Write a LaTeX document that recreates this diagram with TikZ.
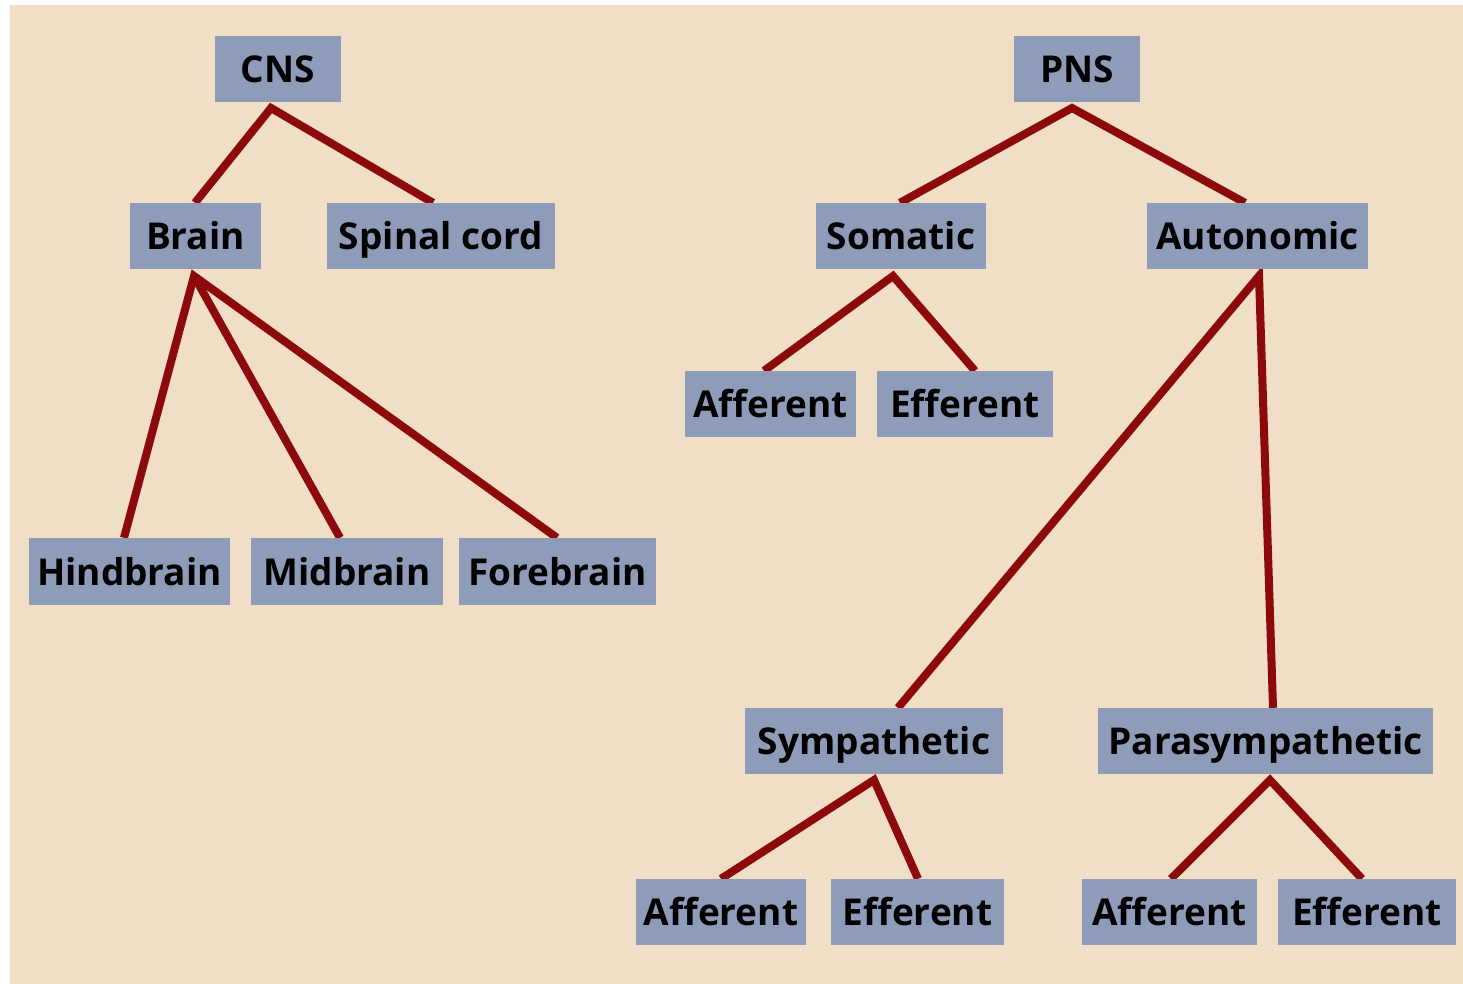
\documentclass[tikz,border=0pt]{standalone}
\usepackage{fontspec}
\setmainfont{Open Sans}
\usetikzlibrary{calc}
\pgfdeclarelayer{background}
\pgfdeclarelayer{paper}
\pgfsetlayers{paper,background,main}
\definecolor{bgbeige}{HTML}{F0DEC6}
\definecolor{boxblue}{HTML}{8E9CBA}
\definecolor{linered}{HTML}{8C0A0A}
\tikzset{
  box/.style={fill=boxblue, draw=none, inner sep=0pt, minimum height=66pt,
    font=\fontsize{37}{37}\selectfont\bfseries, text height=27pt, text depth=0pt},
  link/.style={draw=linered, line width=8pt, line join=miter, line cap=butt}
}
\newcommand{\bx}[6]{% name, left, top, right, bottom, text
  \node[box, minimum width={#4-#2}, minimum height={#5-#3}] (#1) at ({(#2+#4)/2},{(#3+#5)/2}) {#6};}
\begin{document}
\begin{tikzpicture}[x=1pt,y=-1pt]
\useasboundingbox (0,0) rectangle (1463,984);
\begin{pgfonlayer}{paper}
\fill[white] (0,0) rectangle (1463,984);
\fill[bgbeige] (10,5) rectangle (1463,984);
\end{pgfonlayer}
\bx{cns}{215}{36}{341}{102}{CNS}
\bx{pns}{1014}{36}{1140}{102}{PNS}
\bx{brain}{130}{203}{261}{269}{Brain}
\bx{spinal}{327}{203}{555}{269}{Spinal cord}
\bx{somatic}{816}{203}{986}{269}{Somatic}
\bx{auto}{1147}{203}{1368}{269}{Autonomic}
\bx{saff}{685}{371}{856}{437}{Afferent}
\bx{seff}{877}{371}{1053}{437}{Efferent}
\bx{hind}{29}{538}{230}{605}{Hindbrain}
\bx{mid}{251}{538}{443}{605}{Midbrain}
\bx{fore}{459}{538}{656}{605}{Forebrain}
\bx{symp}{745}{708}{1003}{774}{Sympathetic}
\bx{para}{1098}{708}{1433}{774}{Parasympathetic}
\bx{yaff}{636}{879}{806}{945}{Afferent}
\bx{yeff}{831}{879}{1004}{945}{Efferent}
\bx{paff}{1082}{879}{1257}{945}{Afferent}
\bx{peff}{1278}{879}{1456}{945}{Efferent}
\begin{pgfonlayer}{background}
\coordinate (cnsA) at (271,108);
\coordinate (pnsA) at (1072,108);
\coordinate (brainA) at (194,276);
\coordinate (somA) at (893,276);
\coordinate (autoA) at (1259,276);
\coordinate (sympA) at (874,780);
\coordinate (paraA) at (1270,780);
\draw[link] ($(brain.north)+(-0.5,0)$) -- (cnsA) -- ($(spinal.north)+(-8,0)$);
\draw[link] ($(somatic.north)+(-1,0)$) -- (pnsA) -- ($(auto.north)+(-12.5,0)$);
\draw[link] ($(hind.north)+(-5.5,0)$) -- (brainA) -- ($(fore.north)+(-0.5,0)$);
\draw[link] (brainA) -- ($(mid.north)+(-7,0)$);
\draw[link] ($(saff.north)+(-6.5,0)$) -- (somA) -- ($(seff.north)+(10,0)$);
\draw[link] ($(symp.north)+(24,0)$) -- (autoA) -- ($(para.north)+(7.5,0)$);
\draw[link] ($(yaff.north)+(0,0)$) -- (sympA) -- ($(yeff.north)+(0.5,0)$);
\draw[link] ($(paff.north)+(1.5,0)$) -- (paraA) -- ($(peff.north)+(-5,0)$);
\end{pgfonlayer}
\end{tikzpicture}
\end{document}
